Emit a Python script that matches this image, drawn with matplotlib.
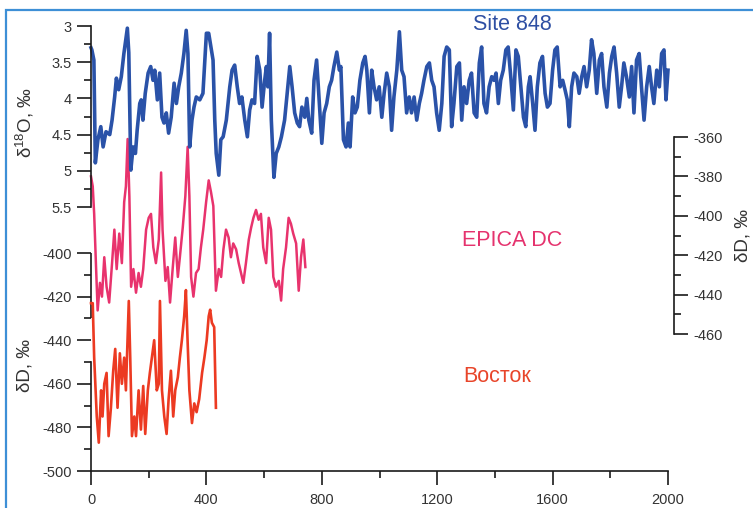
import matplotlib
matplotlib.use("Agg")
import matplotlib.pyplot as plt
import numpy as np
from matplotlib.patches import Rectangle
from matplotlib.ticker import FormatStrFormatter

plt.rcParams['font.family'] = ['Liberation Sans', 'DejaVu Sans']
plt.rcParams['axes.unicode_minus'] = False

# ---- Data ----
site848_t = [0, 3, 10, 15, 24, 34, 42, 52, 65, 73, 82, 88, 96, 105, 114, 126, 131, 138, 146, 154,
             160, 169, 174, 180, 188, 198, 207, 215, 221, 230, 238, 246, 253, 261, 269, 278, 288, 296,
             304, 313, 322, 330, 336, 342, 350, 357, 365, 377, 388, 400, 408, 423, 429, 434, 443, 450,
             458, 469, 481, 489, 498, 507, 515, 523, 533, 542, 550, 558, 567, 576, 585, 593, 602, 608,
             613, 619, 625, 634, 642, 651, 660, 671, 680, 689, 697, 706, 715, 723, 731, 741, 748, 755,
             765, 773, 782, 788, 800, 808, 817, 826, 834, 842, 852, 861, 866, 875, 884, 892, 898, 907,
             915, 923, 932, 942, 950, 956, 965, 973, 981, 990, 999, 1008, 1016, 1025, 1034, 1042, 1050,
             1060, 1069, 1077, 1085, 1094, 1103, 1111, 1120, 1129, 1138, 1146, 1154, 1164, 1173, 1181,
             1189, 1198, 1207, 1216, 1224, 1233, 1242, 1250, 1258, 1268, 1277, 1285, 1293, 1302, 1311,
             1319, 1328, 1337, 1346, 1354, 1362, 1371, 1380, 1389, 1397, 1404, 1412, 1420, 1429, 1438,
             1446, 1455, 1464, 1473, 1481, 1490, 1499, 1507, 1516, 1522, 1531, 1539, 1547, 1556, 1565,
             1574, 1582, 1591, 1600, 1608, 1616, 1626, 1635, 1643, 1651, 1658, 1666, 1674, 1684, 1692,
             1701, 1709, 1718, 1727, 1735, 1743, 1753, 1762, 1770, 1778, 1788, 1797, 1805, 1813, 1822,
             1831, 1839, 1847, 1856, 1866, 1874, 1882, 1891, 1900, 1908, 1917, 1926, 1935, 1943, 1951,
             1961, 1970, 1978, 1986, 1993, 2000]
site848_d18o = [3.30, 3.33, 3.47, 4.89, 4.57, 4.39, 4.67, 4.46, 4.50, 4.30, 3.98, 3.72, 3.88, 3.70, 3.38,
                3.03, 3.37, 4.99, 4.67, 4.76, 4.44, 4.07, 4.02, 4.30, 3.93, 3.65, 3.56, 3.75, 3.61, 4.02,
                3.65, 4.26, 4.34, 4.20, 4.48, 4.26, 3.79, 4.07, 3.84, 3.65, 3.38, 3.06, 3.38, 4.67, 4.30,
                4.12, 3.98, 4.02, 3.93, 3.10, 3.10, 3.47, 4.30, 4.76, 5.06, 4.57, 4.53, 4.30, 3.84, 3.61,
                3.54, 3.84, 4.07, 3.98, 4.30, 4.53, 4.16, 4.02, 4.07, 3.42, 3.61, 4.12, 3.75, 3.56, 3.84,
                3.10, 4.30, 5.09, 4.76, 4.67, 4.53, 4.30, 3.93, 3.56, 3.84, 4.20, 4.34, 4.39, 4.12, 4.26,
                4.00, 4.30, 4.48, 3.75, 3.47, 3.84, 4.62, 4.20, 4.07, 3.84, 3.75, 3.56, 3.36, 3.61, 3.56,
                4.57, 4.67, 4.34, 4.67, 3.98, 4.20, 4.12, 3.75, 3.51, 3.42, 3.61, 4.20, 3.61, 3.84, 4.02,
                3.84, 4.26, 3.93, 3.65, 3.84, 4.44, 3.98, 3.61, 3.08, 3.61, 3.70, 4.20, 3.98, 4.20, 3.98,
                4.30, 4.07, 3.93, 3.75, 3.56, 3.51, 3.75, 3.84, 4.20, 4.44, 4.07, 3.42, 3.29, 3.33, 4.39,
                4.07, 3.56, 3.51, 4.30, 3.84, 4.07, 3.75, 3.65, 4.20, 4.26, 3.51, 3.29, 4.07, 4.20, 3.84,
                3.70, 3.75, 3.65, 4.07, 3.75, 3.61, 3.33, 3.29, 3.70, 4.16, 3.33, 3.42, 3.84, 4.26, 4.39,
                3.84, 3.70, 4.07, 4.44, 3.84, 3.51, 3.42, 3.93, 4.12, 4.07, 3.61, 3.33, 3.29, 3.84, 3.75,
                3.88, 4.02, 4.39, 3.84, 3.65, 3.70, 3.93, 3.70, 3.56, 3.84, 3.61, 3.19, 3.38, 3.93, 3.47,
                3.38, 3.84, 4.12, 3.65, 3.42, 3.29, 3.65, 4.12, 3.84, 3.51, 3.70, 3.98, 3.56, 4.20, 3.47,
                3.38, 3.84, 4.30, 3.84, 3.56, 3.84, 4.07, 3.61, 3.84, 3.38, 3.33, 4.02, 3.61]

epica_t = [0, 6, 11, 17, 23, 31, 38, 46, 54, 63, 73, 81, 89, 98, 107, 115, 121, 127, 133, 139, 147,
           156, 165, 173, 181, 191, 200, 208, 216, 225, 235, 243, 248, 258, 266, 274, 283, 292, 301,
           308, 318, 327, 335, 341, 347, 355, 364, 373, 381, 389, 399, 408, 416, 424, 433, 443, 451,
           459, 468, 477, 485, 493, 503, 512, 520, 528, 537, 547, 555, 563, 572, 581, 589, 597, 607,
           616, 624, 632, 641, 651, 659, 666, 676, 685, 693, 701, 711, 720, 728, 736, 743]
epica_dD = [-380, -385, -399, -424, -448, -434, -441, -421, -436, -444, -424, -407, -427, -409, -424,
            -393, -385, -361, -390, -436, -427, -439, -429, -436, -427, -407, -401, -399, -416, -424,
            -412, -378, -407, -433, -426, -444, -427, -411, -431, -421, -406, -390, -365, -390, -431,
            -441, -429, -427, -416, -407, -393, -382, -388, -395, -438, -427, -431, -417, -407, -411,
            -421, -414, -417, -424, -429, -434, -424, -412, -406, -401, -397, -402, -399, -416, -424,
            -401, -407, -431, -436, -433, -443, -427, -416, -401, -404, -409, -414, -438, -421, -412,
            -426]

vostok_t = [0, 6, 11, 20, 27, 35, 40, 46, 54, 61, 69, 77, 84, 92, 100, 107, 115, 121, 131, 136, 142,
            150, 156, 165, 173, 181, 188, 197, 204, 211, 219, 228, 235, 239, 246, 254, 262, 269, 277,
            285, 292, 301, 308, 315, 323, 329, 335, 341, 350, 358, 366, 375, 385, 393, 401, 408, 413,
            419, 427, 433]
vostok_dD = [-423, -423, -448, -475, -487, -463, -475, -460, -455, -484, -471, -454, -444, -471, -446,
             -460, -448, -463, -422, -448, -484, -475, -484, -463, -481, -461, -483, -463, -455, -448,
             -440, -463, -460, -422, -463, -475, -483, -467, -454, -475, -463, -457, -448, -440, -429,
             -417, -441, -463, -478, -469, -473, -467, -455, -448, -440, -429, -426, -432, -434, -471]

x_major = [0, 400, 800, 1200, 1600, 2000]
x_minor = [200, 600, 1000, 1400, 1800]
d18o_major = [3, 3.5, 4, 4.5, 5, 5.5]
d18o_minor = [3.25, 3.75, 4.25, 4.75, 5.25]
dD_left_major = [-500, -480, -460, -440, -420, -400]
dD_left_minor = [-490, -470, -450, -430, -410]
dD_right_major = [-460, -440, -420, -400, -380, -360]
dD_right_minor = [-450, -430, -410, -390, -370]

# ---- Figure ----
W, H = 753, 508
fig = plt.figure(figsize=(W / 100, H / 100), dpi=100)
fig.patch.set_facecolor('white')

def fx(px):
    return px / W

def fy(py):
    return 1 - py / H

rect = [fx(91), fy(471), (668 - 91) / W, (471 - 20) / H]
ax1 = fig.add_axes(rect)
ax1.patch.set_alpha(0)
axr = ax1.twinx()
axo = ax1.twinx()
for a in (axr, axo):
    a.patch.set_alpha(0)

spine_lw = 1.2
tick_col = '#1a1a1a'
lab_col = '#333333'
tick_fs = 10.5

# Left dD axis (Vostok)
ax1.set_xlim(0, 2000)
ax1.set_ylim(-500, -293.1)
for s in ('top', 'right'):
    ax1.spines[s].set_visible(False)
ax1.spines['left'].set_bounds(-500, -450)
ax1.spines['bottom'].set_bounds(0, 2000)
for s in ('left', 'bottom'):
    ax1.spines[s].set_linewidth(spine_lw)
    ax1.spines[s].set_color(tick_col)
ax1.plot([0, 0], [-430, -400], transform=ax1.get_yaxis_transform(), color=tick_col,
         lw=spine_lw, clip_on=False, solid_capstyle='butt')
ax1.set_xticks(x_major)
ax1.set_xticks(x_minor, minor=True)
ax1.set_yticks(dD_left_major)
ax1.set_yticks(dD_left_minor, minor=True)
ax1.tick_params(which='major', length=10, width=spine_lw, color=tick_col, labelsize=tick_fs,
                labelcolor=lab_col, pad=4)
ax1.tick_params(which='minor', length=5, width=spine_lw, color=tick_col)
ax1.tick_params(axis='x', which='major', pad=6)

# Right dD axis (EPICA)
axr.set_ylim(-529.5, -300.6)
for s in ('top', 'left', 'bottom'):
    axr.spines[s].set_visible(False)
axr.spines['right'].set_position(('outward', 4.3))
axr.spines['right'].set_bounds(-460, -360)
axr.spines['right'].set_linewidth(spine_lw)
axr.spines['right'].set_color(tick_col)
axr.set_yticks(dD_right_major)
axr.set_yticks(dD_right_minor, minor=True)
axr.tick_params(which='major', length=10, width=spine_lw, color=tick_col, labelsize=tick_fs,
                labelcolor=lab_col, pad=4)
axr.tick_params(which='minor', length=5, width=spine_lw, color=tick_col)

# Top d18O axis (Site 848)
axo.set_ylim(9.146, 2.917)
axo.yaxis.tick_left()
for s in ('top', 'right', 'bottom'):
    axo.spines[s].set_visible(False)
axo.spines['left'].set_visible(True)
axo.spines['left'].set_bounds(3, 5.5)
axo.spines['left'].set_linewidth(spine_lw)
axo.spines['left'].set_color(tick_col)
axo.set_yticks(d18o_major)
axo.set_yticks(d18o_minor, minor=True)
axo.yaxis.set_major_formatter(FormatStrFormatter('%g'))
axo.tick_params(which='major', length=10, width=spine_lw, color=tick_col, labelsize=tick_fs,
                labelcolor=lab_col, pad=4)
axo.tick_params(which='minor', length=5, width=spine_lw, color=tick_col)

# Series
ax1.plot(vostok_t, vostok_dD, color='#ec3a22', lw=1.9, clip_on=False)
axr.plot(epica_t, epica_dD, color='#e8336d', lw=1.8, clip_on=False)
axo.plot(site848_t, site848_d18o, color='#2a52a8', lw=2.6, clip_on=False)

# Series labels
fig.text(fx(512), fy(24), 'Site 848', color='#2e4fa3', fontsize=15.5, ha='center', va='center')
fig.text(fx(512), fy(240), 'EPICA DC', color='#e5336e', fontsize=15.5, ha='center', va='center')
fig.text(fx(497), fy(377), 'Восток', color='#e8452a', fontsize=15.5, ha='center', va='center')

# Axis labels
fig.text(fx(25), fy(122), 'δ$^{\\mathregular{18}}$O, ‰', rotation=90, fontsize=13.5,
         ha='center', va='center', color=lab_col)
fig.text(fx(25), fy(365), 'δD, ‰', rotation=90, fontsize=13.5, ha='center', va='center',
         color=lab_col)
fig.text(fx(743), fy(235), 'δD, ‰', rotation=90, fontsize=13.5, ha='center', va='center',
         color=lab_col)

# Frame
frame = Rectangle((fx(6), -0.2), 1.5, fy(10) + 0.2, transform=fig.transFigure,
                  fill=False, edgecolor='#3d8fd6', lw=1.6)
fig.add_artist(frame)

fig.savefig('out.png', dpi=100)
